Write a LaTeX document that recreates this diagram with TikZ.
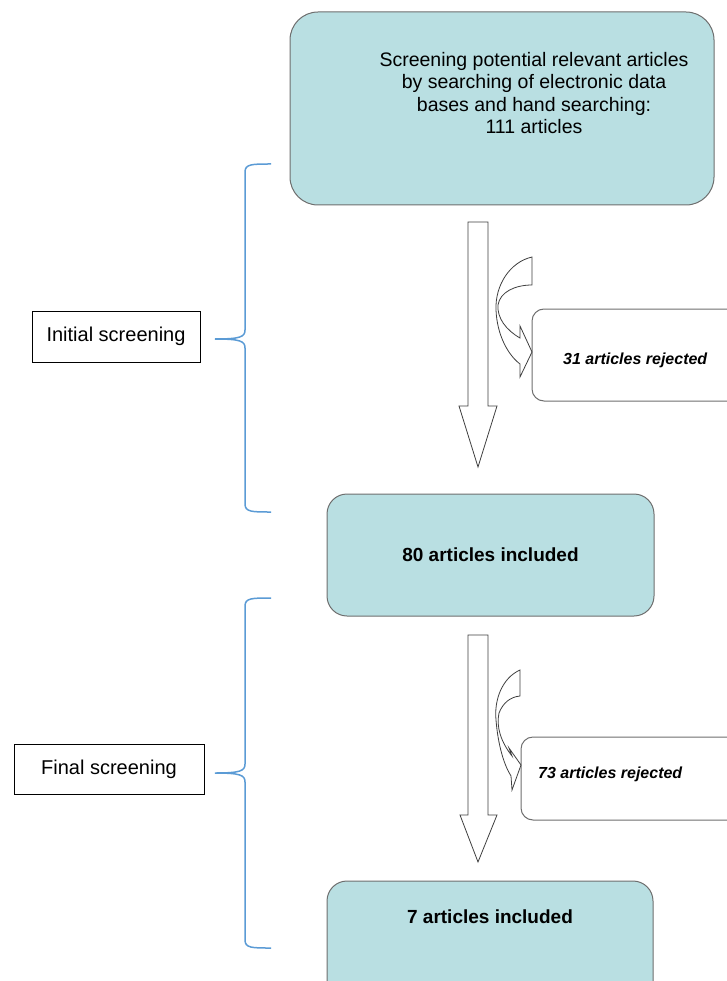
\documentclass[tikz,border=0pt]{standalone}
\usepackage{fontspec}
\setmainfont{Liberation Sans}
\definecolor{tealfill}{HTML}{B9DFE2}
\definecolor{boxgray}{HTML}{6E6E6E}
\definecolor{arrowgray}{HTML}{3F3F3F}
\definecolor{braceblue}{HTML}{5B9BD5}
\begin{document}
\begin{tikzpicture}[x=1pt,y=-1pt,
  tealbox/.style={draw=boxgray, fill=tealfill, line width=1pt, rounded corners=#1, inner sep=0pt, outer sep=0pt},
  tealbox/.default=20pt,
  rejbox/.style={draw=boxgray, fill=white, line width=1pt, rounded corners=12pt, inner sep=0pt, outer sep=0pt, minimum height=#1},
  labbox/.style={draw=black, fill=white, line width=0.8pt, inner sep=0pt, outer sep=0pt, font=\fontsize{20}{23}\selectfont},
  maintext/.style={align=center, inner sep=0pt, font=\fontsize{19.5}{22.5}\selectfont},
  boldtext/.style={inner sep=0pt, font=\fontsize{19}{22}\selectfont\bfseries},
  rejtext/.style={inner sep=0pt, anchor=west, font=\fontsize{16}{19}\selectfont\bfseries\itshape},
  blockarrow/.style={draw=arrowgray, fill=white, line width=0.8pt, line join=miter},
  brace/.style={draw=braceblue, line width=1.5pt}
]
\useasboundingbox (0,0) rectangle (727,981);
\clip (0,0) rectangle (727,981);

% main boxes
\node[tealbox=28pt, minimum width=424pt, minimum height=193pt] (top) at (502,108.5) {};
\node[maintext] (toptext) at (534,93) {Screening potential relevant articles\\by searching of electronic data\\bases and hand searching:\\111 articles};

\node[tealbox, minimum width=327pt, minimum height=122pt, boldtext] (mid) at (490.5,555) {80 articles included};

\node[tealbox, minimum width=326pt, minimum height=122pt] (bot) at (490,942) {};
\node[boldtext] (bottext) at (490,917) {7 articles included};

% rejected boxes
\node[rejbox=92pt, minimum width=240pt] (rej1) at (652,355) {};
\node[rejtext] (rej1text) at (563,360) {31 articles rejected};
\node[rejbox=83pt, minimum width=240pt] (rej2) at (641,778.5) {};
\node[rejtext] (rej2text) at (538,774) {73 articles rejected};

% label boxes
\node[labbox, minimum width=168pt, minimum height=51pt] (init) at (116,336.5) {Initial screening};
\node[labbox, minimum width=190pt, minimum height=50pt] (final) at (109,769) {Final screening};

% coordinates for connectors
\coordinate (a1top) at (top.south -| 478,0);
\coordinate (b1tip) at (init.east);
\coordinate (b2tip) at (final.east);

% block down arrows
\draw[blockarrow] (468,222) -- (488,222) -- (488,406) -- (497,406) -- (478,467) -- (459,406) -- (468,406) -- cycle;
\draw[blockarrow] (468,635) -- (488,635) -- (488,815) -- (497,815) -- (478,862) -- (460,815) -- (468,815) -- cycle;

% curved arrow 1
\draw[blockarrow] (532,257) .. controls (510,262) and (495,285) .. (496,310)
  .. controls (497,335) and (508,355) .. (520,364) -- (520,377) -- (532,352) -- (520,326) -- (520,338)
  .. controls (506,330) and (497,318) .. (498,305)
  .. controls (500,292) and (515,285) .. (532,285) -- cycle;

% curved arrow 2
\draw[blockarrow] (520,670) .. controls (502,678) and (494,700) .. (496,720)
  .. controls (498,745) and (504,765) .. (511,776) -- (512,790) -- (521,765) -- (509,748) -- (512,756)
  .. controls (501,742) and (496,727) .. (499,713)
  .. controls (503,703) and (510,697) .. (520,696) -- cycle;

% braces
\draw[brace] (271,164) .. controls (252,164) and (245,164) .. (245,172) -- (245,330)
  .. controls (245,337) and (240,339) .. (215,339)
  .. controls (240,339) and (245,341) .. (245,348) -- (245,504)
  .. controls (245,512) and (252,512) .. (271,512);
\draw[brace] (271,598) .. controls (252,598) and (245,598) .. (245,606) -- (245,764)
  .. controls (245,771) and (240,773) .. (215,773)
  .. controls (240,773) and (245,775) .. (245,782) -- (245,940)
  .. controls (245,948) and (252,948) .. (271,948);
\end{tikzpicture}
\end{document}
